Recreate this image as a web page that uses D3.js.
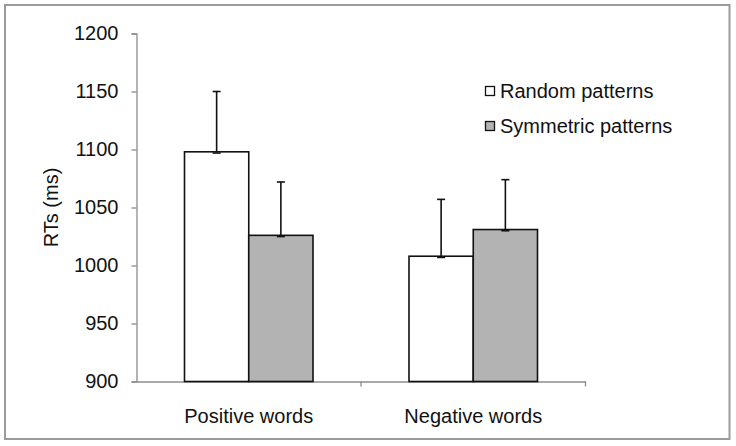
<!DOCTYPE html>
<html>
<head>
<meta charset="utf-8">
<script src="https://cdn.jsdelivr.net/npm/d3@7"></script>
<style>
  body { margin: 0; background: #fff; }
  text { font-family: "Liberation Sans", Arial, sans-serif; fill: #111; }
</style>
</head>
<body>
<div id="chart-container"></div>
<script>
// data
const categories = ["Positive words", "Negative words"];
const seriesNames = ["Random patterns", "Symmetric patterns"];
const randomMeans = [1098, 1008];
const symmetricMeans = [1026, 1031];
const randomErr = [52, 49];
const symmetricErr = [46, 43];
const yTicks = [900, 950, 1000, 1050, 1100, 1150, 1200];
const seriesColors = ["#ffffff", "#b3b3b3"];

const W = 736, H = 446;
const margin = {top: 33.5, right: 150.5, bottom: 64.5, left: 136.5};
const width = W - margin.left - margin.right;
const height = H - margin.top - margin.bottom;
const fontSize = 20;

const svg = d3.select("#chart-container")
    .append("svg")
        .attr("width", W)
        .attr("height", H);

// outer frame
svg.append("rect")
    .attr("x", 5).attr("y", 5)
    .attr("width", 724.5).attr("height", 434)
    .attr("fill", "none")
    .attr("stroke", "#9a9a9a")
    .attr("stroke-width", 2);

const g = svg.append("g")
    .attr("transform", `translate(${margin.left}, ${margin.top})`);

// scales
const x0 = d3.scaleBand()
    .domain(categories)
    .range([0, width]);
const x1 = d3.scaleBand()
    .domain(seriesNames)
    .range([48, x0.bandwidth() - 48]);
const y = d3.scaleLinear()
    .domain([900, 1200])
    .range([height, 0]);

// y axis
const yAxis = g.append("g")
    .call(d3.axisLeft(y).tickValues(yTicks).tickSize(5).tickPadding(13).tickFormat(d3.format("d")));
yAxis.select(".domain").attr("stroke", "#8c8c8c").attr("stroke-width", 1.3);
yAxis.selectAll(".tick line").attr("stroke", "#8c8c8c").attr("stroke-width", 1.3);
yAxis.selectAll(".tick text")
    .attr("font-size", fontSize)
    .style("font-family", "'Liberation Sans', Arial, sans-serif")
    .attr("fill", "#111");

// x axis (ticks between categories)
const xAxis = g.append("g")
    .attr("transform", `translate(0, ${height})`)
    .call(d3.axisBottom(x0).tickSize(0).tickPadding(27).tickSizeOuter(0));
xAxis.select(".domain").attr("stroke", "#8c8c8c").attr("stroke-width", 1.3);
xAxis.selectAll(".tick text")
    .attr("font-size", fontSize)
    .style("font-family", "'Liberation Sans', Arial, sans-serif")
    .attr("fill", "#111");
xAxis.selectAll(".sep")
    .data(categories.map(c => x0(c) + x0.bandwidth()))
    .join("line")
        .attr("class", "sep")
        .attr("x1", d => d).attr("x2", d => d)
        .attr("y1", 0).attr("y2", 5)
        .attr("stroke", "#8c8c8c")
        .attr("stroke-width", 1.3);

// y axis label
g.append("text")
    .attr("transform", "rotate(-90)")
    .attr("x", -height / 2)
    .attr("y", -margin.left + 58)
    .attr("text-anchor", "middle")
    .attr("font-size", fontSize)
    .text("RTs (ms)");

// build rows for bars
const rows = [];
categories.forEach((c, i) => {
    rows.push({cat: c, series: seriesNames[0], value: randomMeans[i], err: randomErr[i], color: seriesColors[0]});
    rows.push({cat: c, series: seriesNames[1], value: symmetricMeans[i], err: symmetricErr[i], color: seriesColors[1]});
});

// error bars first (the lower half hides behind the bar)
const eb = g.selectAll(".err")
    .data(rows)
    .join("g")
        .attr("class", "err")
        .attr("transform", d => `translate(${x0(d.cat) + x1(d.series) + x1.bandwidth() / 2}, 0)`);
eb.append("line")
    .attr("y1", d => y(d.value))
    .attr("y2", d => y(d.value + d.err))
    .attr("stroke", "#111").attr("stroke-width", 1.6);
eb.append("line")
    .attr("x1", -4).attr("x2", 4)
    .attr("y1", d => y(d.value + d.err))
    .attr("y2", d => y(d.value + d.err))
    .attr("stroke", "#111").attr("stroke-width", 1.6);

// bars
g.selectAll(".bar")
    .data(rows)
    .join("rect")
        .attr("class", "bar")
        .attr("x", d => x0(d.cat) + x1(d.series))
        .attr("y", d => y(d.value))
        .attr("width", x1.bandwidth())
        .attr("height", d => height - y(d.value))
        .attr("fill", d => d.color)
        .attr("stroke", "#111")
        .attr("stroke-width", 1.6);

// small cap at bar top
g.selectAll(".cap")
    .data(rows)
    .join("line")
        .attr("class", "cap")
        .attr("x1", d => x0(d.cat) + x1(d.series) + x1.bandwidth() / 2 - 4)
        .attr("x2", d => x0(d.cat) + x1(d.series) + x1.bandwidth() / 2 + 4)
        .attr("y1", d => y(d.value) + 1.2)
        .attr("y2", d => y(d.value) + 1.2)
        .attr("stroke", "#111").attr("stroke-width", 1.6);

// legend
const legend = svg.append("g")
    .attr("transform", "translate(485, 86)");
const li = legend.selectAll(".li")
    .data(seriesNames)
    .join("g")
        .attr("class", "li")
        .attr("transform", (d, i) => `translate(0, ${i * 35})`);
li.append("rect")
    .attr("x", 0.5).attr("y", 0.5)
    .attr("width", 9).attr("height", 9)
    .attr("fill", (d, i) => seriesColors[i])
    .attr("stroke", "#111")
    .attr("stroke-width", 1.3);
li.append("text")
    .attr("x", 15)
    .attr("y", 12)
    .attr("font-size", fontSize)
    .text(d => d);
</script>
</body>
</html>
